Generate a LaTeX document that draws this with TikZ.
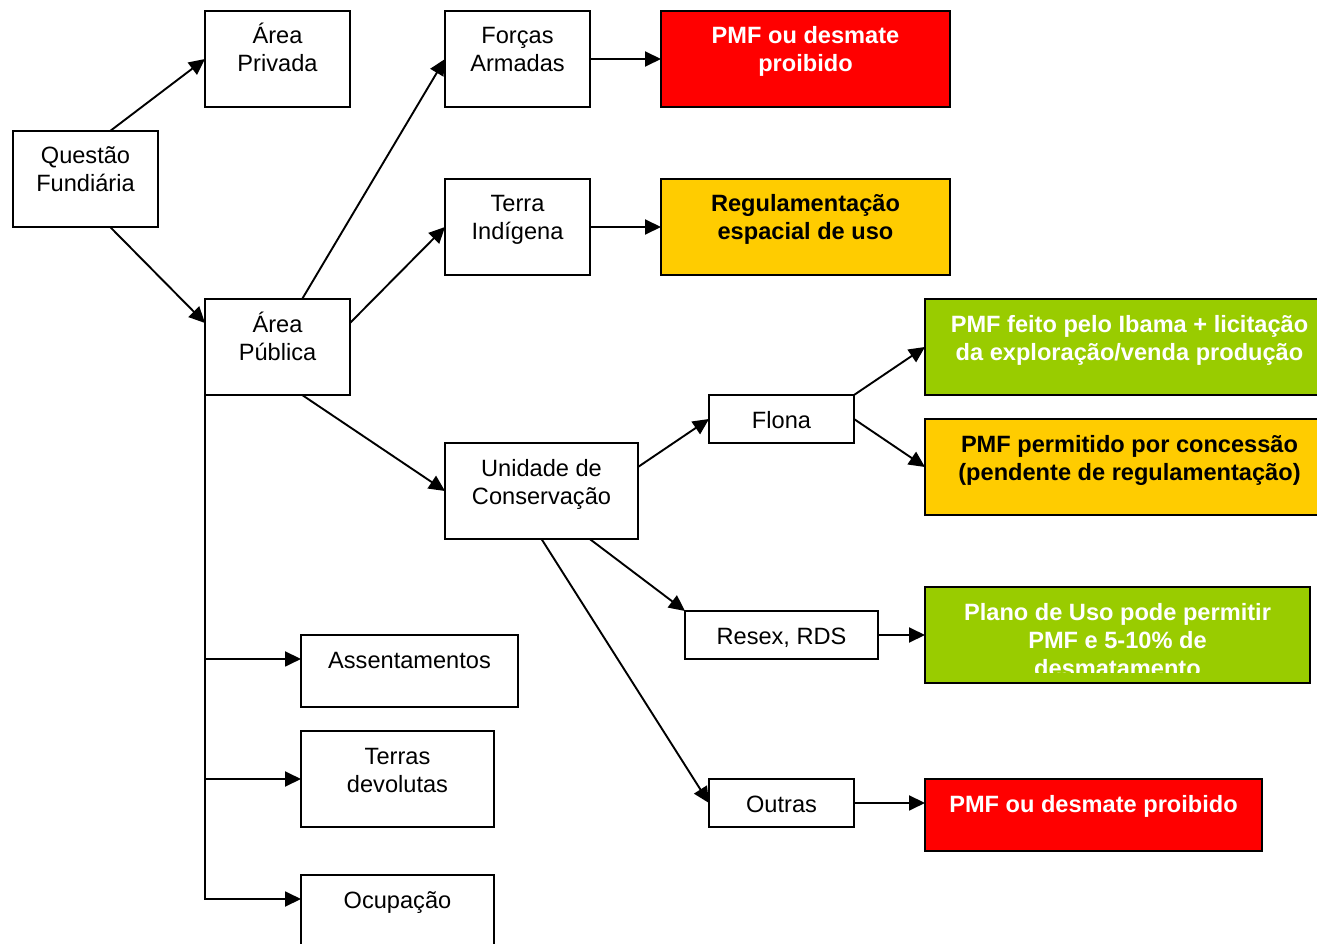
\documentclass[tikz,border=0pt]{standalone}
\usepackage{fontspec}
\setmainfont{Liberation Sans}
\usetikzlibrary{arrows.meta,calc}

\definecolor{boxred}{HTML}{FF0000}
\definecolor{boxorange}{HTML}{FFCC00}
\definecolor{boxgreen}{HTML}{99CC00}

\tikzset{
  box/.style={draw=black, line width=1.9pt, rectangle, inner sep=0pt, outer sep=0pt},
  plain/.style={box, fill=white},
  redbox/.style={box, fill=boxred},
  orangebox/.style={box, fill=boxorange},
  greenbox/.style={box, fill=boxgreen},
  lbl/.style={align=center, inner sep=0pt, outer sep=0pt, font=\fontsize{23.6}{28}\selectfont},
  lblw/.style={lbl, text=white, font=\fontsize{23.6}{28}\selectfont\bfseries},
  lblb/.style={lbl, text=black, font=\fontsize{23.6}{28}\selectfont\bfseries},
  conn/.style={line width=1.9pt, draw=black},
  arr/.style={conn, -{Triangle[length=16pt,width=15pt]}},
}

% box: name, x1, y1, x2, y2, box style, label style, text
\newcommand\flowbox[8]{%
  \node[#6, minimum width={#4-#2}, minimum height={#5-#3}, anchor=north west] (#1) at (#2,#3) {};
  \node[#7, anchor=north] (#1-t) at ([yshift=-9pt]#1.north) {\rule{0pt}{24pt}#8};
}

\begin{document}
\begin{tikzpicture}[x=1pt,y=-1pt]
\useasboundingbox (0,0) rectangle (1317,944);
\clip (0,0) rectangle (1317,944);

% left column
\flowbox{qf}{13}{131}{158}{227}{plain}{lbl}{Questão\\Fundiária}
\flowbox{apr}{205}{11}{350}{107}{plain}{lbl}{Área\\Privada}
\flowbox{apu}{205}{299}{350}{395}{plain}{lbl}{Área\\Pública}

% public land categories
\flowbox{fa}{445}{11}{590}{107}{plain}{lbl}{Forças\\Armadas}
\flowbox{ti}{445}{179}{590}{275}{plain}{lbl}{Terra\\Indígena}
\flowbox{uc}{445}{443}{638}{539}{plain}{lbl}{Unidade de\\Conservação}
\flowbox{as}{301}{635}{518}{707}{plain}{lbl}{Assentamentos}
\flowbox{td}{301}{731}{494}{827}{plain}{lbl}{Terras\\devolutas}
\flowbox{oc}{301}{875}{494}{971}{plain}{lbl}{Ocupação}

% conservation unit types
\flowbox{fl}{709}{395}{854}{443}{plain}{lbl}{Flona}
\flowbox{rs}{685}{611}{878}{659}{plain}{lbl}{Resex, RDS}
\flowbox{ou}{709}{779}{854}{827}{plain}{lbl}{Outras}

% outcomes
\flowbox{r1}{661}{11}{950}{107}{redbox}{lblw}{PMF ou desmate\\proibido}
\flowbox{o1}{661}{179}{950}{275}{orangebox}{lblb}{Regulamentação\\espacial de uso}
\flowbox{g1}{925}{299}{1334}{395}{greenbox}{lblw}{PMF feito pelo Ibama + licitação\\da exploração/venda produção}
\flowbox{o2}{925}{419}{1334}{515}{orangebox}{lblb}{PMF permitido por concessão\\(pendente de regulamentação)}
\flowbox{r2}{925}{779}{1262}{851}{redbox}{lblw}{PMF ou desmate proibido}

\node[greenbox, minimum width={1310-925}, minimum height={683-587}, anchor=north west] (g2) at (925,587) {};
\begin{scope}
  \clip (925,587) rectangle (1310,672);
  \node[lblw, anchor=north] (g2-t) at ([yshift=-9pt]g2.north)
    {\rule{0pt}{24pt}Plano de Uso pode permitir\\PMF e 5-10\% de\\desmatamento};
\end{scope}

% connectors
\draw[arr] ($(qf.north west)!0.67!(qf.north east)$) -- (apr.west);
\draw[arr] ($(qf.south west)!0.67!(qf.south east)$) -- ($(apu.north west)!0.25!(apu.south west)$);
\draw[arr] ($(apu.north west)!0.67!(apu.north east)$) -- (fa.west);
\draw[arr] ($(apu.north east)!0.25!(apu.south east)$) -- (ti.west);
\draw[arr] ($(apu.south west)!0.67!(apu.south east)$) -- (uc.west);
\draw[arr] (fa.east) -- (r1.west);
\draw[arr] (ti.east) -- (o1.west);

\draw[arr] ($(uc.north east)!0.25!(uc.south east)$) -- (fl.west);
\draw[arr] ($(uc.south west)!0.75!(uc.south east)$) -- (rs.north west);
\draw[arr] (uc.south) -- (ou.west);
\draw[arr] (fl.north east) -- (g1.west);
\draw[arr] (fl.east) -- (o2.west);
\draw[arr] (rs.east) -- (g2.west);
\coordinate (r2in) at ($(r2.north west)!0.333!(r2.south west)$);
\draw[arr] (ou.east) -- (r2in);

% trunk from the public land box
\coordinate (b1) at ($(as.north west)!0.333!(as.south west)$);
\coordinate (b3) at ($(oc.north west)!0.25!(oc.south west)$);
\draw[arr] (apu.south west) |- (b3);
\draw[arr] (apu.south west |- b1) -- (b1);
\draw[arr] (apu.south west |- td.west) -- (td.west);
\end{tikzpicture}
\end{document}
